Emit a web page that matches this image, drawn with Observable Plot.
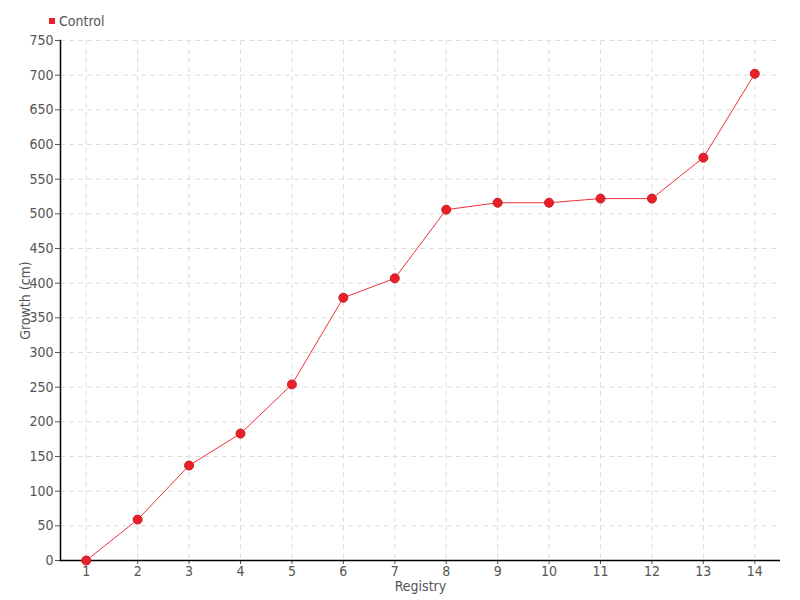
<!DOCTYPE html>
<html><head><meta charset="utf-8">
<script src="https://cdn.jsdelivr.net/npm/d3@7"></script>
<script src="https://cdn.jsdelivr.net/npm/@observablehq/plot@0.6"></script>
<style>
body{margin:0;background:#fff;}
#wrap{position:relative;width:800px;height:600px;font-family:"DejaVu Sans Condensed","DejaVu Sans",sans-serif;}
#legend{position:absolute;left:49px;top:13px;font-size:14px;color:#555;display:flex;align-items:center;}
#legend span.sw{display:inline-block;width:6px;height:6px;background:#e8202a;margin-right:4px;}
</style>
</head><body>
<div id="wrap"><div id="legend"><span class="sw"></span>Control</div></div>
<script>
const registry = [1,2,3,4,5,6,7,8,9,10,11,12,13,14];
const growth = [0,59,137,183,254,379,407,506,516,516,522,522,581,702];
const yTicks = [0,50,100,150,200,250,300,350,400,450,500,550,600,650,700,750];
const seriesName = "Control";

const data = registry.map((r,i)=>({registry:r, growth:growth[i], series:seriesName}));
const font = '"DejaVu Sans Condensed","DejaVu Sans",sans-serif';

const chart = Plot.plot({
  width: 800, height: 600,
  marginTop: 40, marginLeft: 60, marginRight: 20, marginBottom: 40,
  style: {fontFamily: font, fontSize: "14px", color: "#555", background: "#fff"},
  x: {type: "point", domain: registry, padding: 0.5, round: false},
  y: {domain: [0, 750]},
  marks: [
    Plot.ruleY(yTicks, {stroke: "#ddd", strokeDasharray: "5,4", strokeWidth: 1}),
    Plot.ruleX(registry, {stroke: "#ddd", strokeDasharray: "5,4", strokeWidth: 1}),
    Plot.axisY({ticks: yTicks, tickSize: 5, tickPadding: 2, label: "Growth (cm)", labelAnchor: "center", labelArrow: "none", labelOffset: 40, fill: "#555"}),
    Plot.axisX({tickSize: 4, tickPadding: 2, label: "Registry", labelAnchor: "center", labelArrow: "none", labelOffset: 30, fill: "#555"}),
    Plot.frame({anchor: "left", stroke: "#000", strokeWidth: 1.5}),
    Plot.ruleY([0], {stroke: "#000", strokeWidth: 1.5}),
    Plot.line(data, {x: "registry", y: "growth", stroke: "#f0303c", strokeWidth: 1}),
    Plot.dot(data, {x: "registry", y: "growth", r: 4.5, fill: "#e8202a", stroke: "#d01820", strokeWidth: 1})
  ]
});
document.getElementById("wrap").appendChild(chart);
chart.style.position = "absolute";
chart.style.left = "0";
chart.style.top = "0";
document.getElementById("legend").style.zIndex = 2;
</script>
</body></html>
